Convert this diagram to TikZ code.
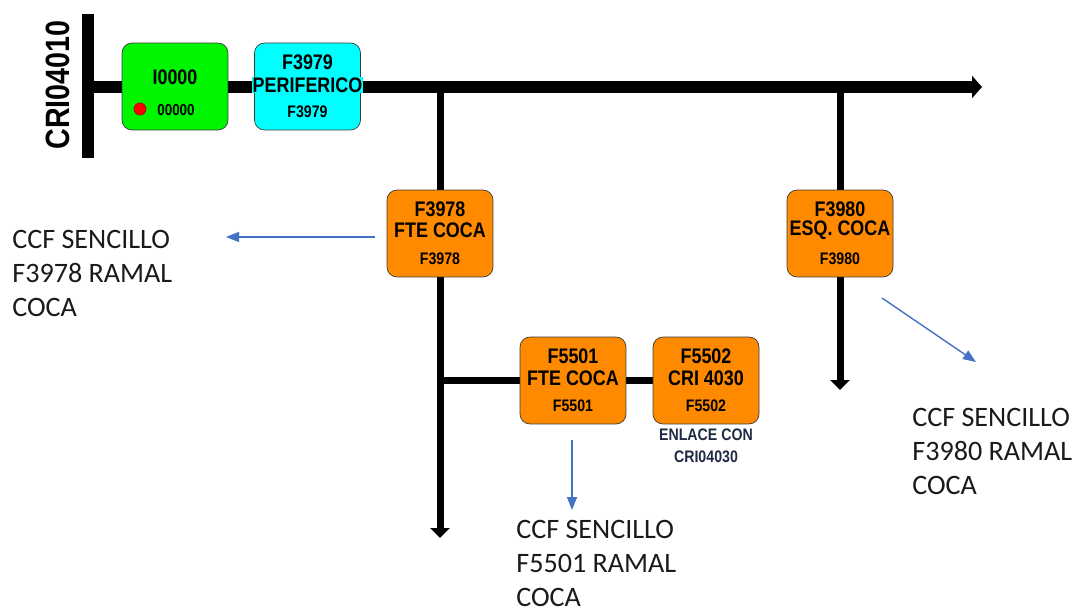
\documentclass[tikz,border=0pt]{standalone}
\usepackage{fontspec}
\setmainfont{Carlito}
\newfontfamily\boxfont[FakeStretch=0.85]{Liberation Sans}
\usepackage{tikz}
\usetikzlibrary{arrows.meta,backgrounds,positioning}
\definecolor{ink}{HTML}{1A1A1A}
\definecolor{edge}{HTML}{3A3A3A}
\definecolor{boxgreen}{HTML}{00F500}
\definecolor{boxcyan}{HTML}{00FFFF}
\definecolor{boxorange}{HTML}{FF8A00}
\definecolor{note}{HTML}{4472C4}
\definecolor{navy}{HTML}{1F2A44}
\tikzset{
  box/.style={draw=edge,thin,rounded corners=0.2cm,minimum width=2.12cm,minimum height=1.74cm,inner sep=0pt},
  btitle/.style={font=\boxfont\bfseries\fontsize{12}{12}\selectfont,inner sep=0.4pt},
  bsmall/.style={font=\boxfont\bfseries\fontsize{9.5}{9.5}\selectfont,inner sep=0pt},
  reddot/.style={circle,fill=red,draw=red!70!black,minimum size=0.24cm,inner sep=0pt},
  barline/.style={line width=0.24cm},
  busline/.style={line width=0.24cm,-{Triangle[length=0.2cm,width=0.44cm]}},
  branch/.style={line width=0.14cm,-{Triangle[length=0.2cm,width=0.38cm]}},
  feeder/.style={line width=0.15cm},
  noteline/.style={note,line width=0.8pt,-{Triangle[length=2.6mm,width=2mm]}},
  notetxt/.style={font=\fontsize{16}{19.4}\selectfont,text=ink,anchor=north west,align=left,inner sep=0pt},
}
\begin{document}
\begin{tikzpicture}[x=0.02cm,y=-0.02cm]
  \useasboundingbox (0,0) rectangle (1078,608);
  % ---------- bus bar ----------
  \coordinate (barT) at (88,14);
  \coordinate (barB) at (88,158);
  \coordinate (busE) at (982,87);
  \coordinate (tipA) at (440,538);
  \coordinate (tipB) at (840,390);
  \node[font=\boxfont\bfseries\fontsize{19.2}{19.2}\selectfont,rotate=90,inner sep=0pt] (cri) at (58,85) {CRI04010};
  % ---------- main line ----------
  \node[box,fill=boxgreen] (i0000) at (175,86.5) {};
  \node[btitle] (i0000t) at (175,77) {I0000};
  \node[reddot] (dot) at (140,109) {};
  \node[bsmall,font=\boxfont\bfseries\fontsize{9}{9}\selectfont] (i0000s) at (176,110) {00000};
  \node[box,fill=boxcyan] (f3979) at (307.5,86.5) {};
  \node[btitle] (f3979t) at (307.5,62) {F3979};
  \node[btitle,fill=boxcyan] (f3979n) at (307.5,85) {PERIFERICO};
  \node[bsmall] (f3979s) at (307.5,112) {F3979};
  % ---------- branches ----------
  \node[box,fill=boxorange] (f3978) at (440,233.5) {};
  \node[btitle] (f3978t) at (440,209) {F3978};
  \node[btitle] (f3978n) at (440,230) {FTE COCA};
  \node[bsmall] (f3978s) at (440,259) {F3978};
  \node[box,fill=boxorange] (f3980) at (840,233.5) {};
  \node[btitle] (f3980t) at (840,209) {F3980};
  \node[btitle] (f3980n) at (840,230) {ESQ. COCA};
  \node[bsmall] (f3980s) at (840,259) {F3980};
  \node[box,fill=boxorange] (f5501) at (573,380.5) {};
  \node[btitle] (f5501t) at (573,356) {F5501};
  \node[btitle] (f5501n) at (573,378) {FTE COCA};
  \node[bsmall] (f5501s) at (573,406) {F5501};
  \node[box,fill=boxorange] (f5502) at (706,380.5) {};
  \node[btitle] (f5502t) at (706,356) {F5502};
  \node[btitle] (f5502n) at (706,378) {CRI 4030};
  \node[bsmall] (f5502s) at (706,406) {F5502};
  \node[bsmall,text=navy,align=center,font=\boxfont\bfseries\fontsize{9.5}{12.4}\selectfont] (link) at (706,446) {ENLACE CON\\CRI04030};
  \begin{scope}[on background layer]
    \draw[barline] (barT) -- (barB);
    \draw[busline] (barT |- busE) -- (busE);
    \draw[branch] (f3978 |- busE) -- (tipA);
    \draw[branch] (f3980 |- busE) -- (tipB);
    \draw[feeder] (f3978 |- f5501) -- (f5501) -- (f5502);
  \end{scope}
  % ---------- notes ----------
  \coordinate (nAs) at (375,237);
  \coordinate (nAe) at (226,237);
  \coordinate (nBs) at (882,298);
  \coordinate (nBe) at (976,362);
  \coordinate (nCs) at (572,440);
  \coordinate (nCe) at (572,510);
  \draw[noteline] (nAs) -- (nAe);
  \draw[noteline] (nBs) -- (nBe);
  \draw[noteline] (nCs) -- (nCe);
  \node[notetxt] (ccfA) at (12,230) {CCF SENCILLO\\F3978 RAMAL\\COCA};
  \node[notetxt] (ccfB) at (912,408) {CCF SENCILLO\\F3980 RAMAL\\COCA};
  \node[notetxt] (ccfC) at (516,520) {CCF SENCILLO\\F5501 RAMAL\\COCA};
\end{tikzpicture}
\end{document}
